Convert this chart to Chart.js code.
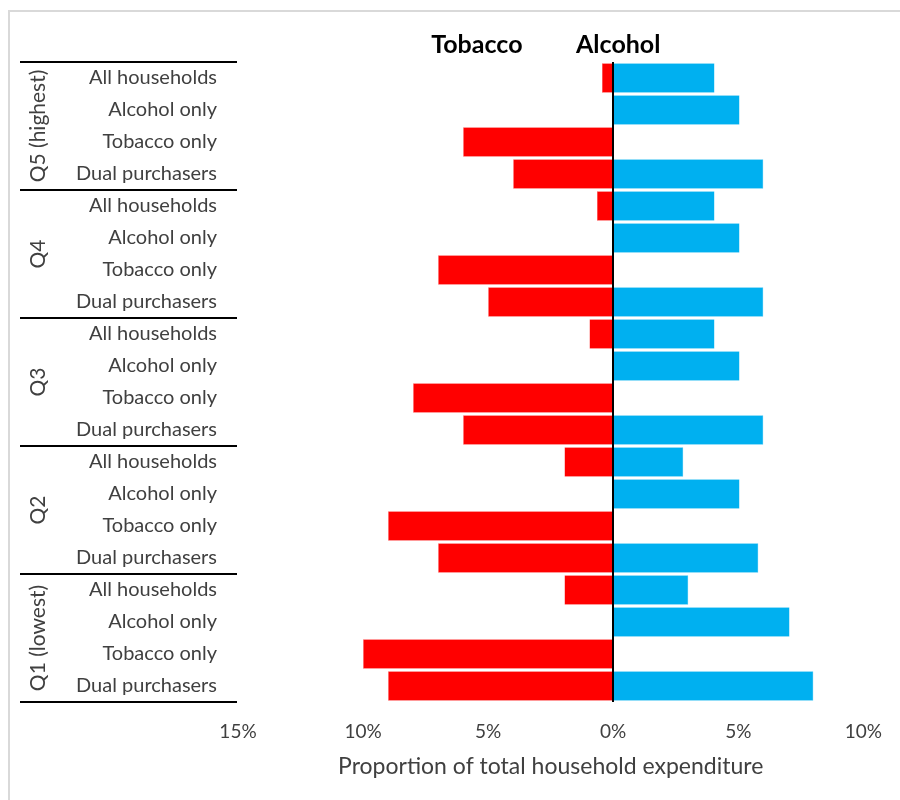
<!DOCTYPE html>
<html>
<head>
<meta charset="utf-8">
<script src="https://cdn.jsdelivr.net/npm/chart.js@4"></script>
<style>
	html, body { margin: 0; padding: 0; background: #fff; }
	#wrap { width: 900px; height: 800px; position: relative; }
</style>
</head>
<body>
<div id="wrap"><canvas id="chart"></canvas></div>
<script>
'use strict';

var groups = ['Q5 (highest)', 'Q4', 'Q3', 'Q2', 'Q1 (lowest)'];
var subgroups = ['All households', 'Alcohol only', 'Tobacco only', 'Dual purchasers'];
// % of total household expenditure, rows top to bottom
var tobacco = [0.45, 0, 6, 4, 0.65, 0, 7, 5, 0.95, 0, 8, 6, 1.95, 0, 9, 7, 1.95, 0, 10, 9];
var alcohol = [4.05, 5.05, 0, 6, 4.05, 5.05, 0, 6, 4.05, 5.05, 0, 6, 2.8, 5.05, 0, 5.8, 3, 7.05, 0, 8];
var xTicks = [-15, -10, -5, 0, 5, 10];

(function (window) {

	var labels = [];
	var tobaccoData = [];
	var alcoholData = [];
	for (var i = 0; i < tobacco.length; i++) {
		labels.push(subgroups[i % subgroups.length]);
		tobaccoData.push(tobacco[i] ? -tobacco[i] : null);
		alcoholData.push(alcohol[i] ? alcohol[i] : null);
	}

	var family = 'Lato, "Open Sans", sans-serif';
	Chart.defaults.font.family = family;
	Chart.defaults.font.size = 18;
	Chart.defaults.color = '#404040';

	var decor = {
		id: 'decor',
		beforeDraw: function (chart) {
			var ctx = chart.ctx;
			ctx.save();
			ctx.strokeStyle = '#d9d9d9';
			ctx.lineWidth = 2;
			ctx.beginPath();
			ctx.moveTo(9, 800);
			ctx.lineTo(9, 11);
			ctx.lineTo(900, 11);
			ctx.stroke();
			ctx.restore();
		},
		afterDatasetsDraw: function (chart) {
			var ctx = chart.ctx;
			var area = chart.chartArea;
			var x = chart.scales.x;
			var y = chart.scales.y;
			var n = subgroups.length;

			ctx.save();
			// zero line
			var x0 = Math.round(x.getPixelForValue(0));
			ctx.strokeStyle = '#000';
			ctx.lineWidth = 2;
			ctx.beginPath();
			ctx.moveTo(x0, area.top);
			ctx.lineTo(x0, area.bottom);
			ctx.stroke();

			// group separators and rotated group labels
			ctx.fillStyle = '#404040';
			ctx.font = '21px ' + family;
			for (var g = 0; g <= groups.length; g++) {
				var yy = Math.round(y.getPixelForValue(g * n - 0.5));
				ctx.beginPath();
				ctx.moveTo(20, yy);
				ctx.lineTo(237, yy);
				ctx.stroke();
				if (g < groups.length) {
					var mid = y.getPixelForValue(g * n + (n - 1) / 2);
					ctx.save();
					ctx.translate(38, mid);
					ctx.rotate(-Math.PI / 2);
					ctx.textAlign = 'center';
					ctx.textBaseline = 'middle';
					ctx.fillText(groups[g], 0, 0);
					ctx.restore();
				}
			}

			// series headings
			ctx.fillStyle = '#000';
			ctx.font = 'bold 25px ' + family;
			ctx.textAlign = 'center';
			ctx.textBaseline = 'middle';
			ctx.fillText('Tobacco', x.getPixelForValue(-5.45), 45);
			ctx.fillText('Alcohol', x.getPixelForValue(0.2), 45);
			ctx.restore();
		}
	};

	var config = {
		type: 'bar',
		data: {
			labels: labels,
			datasets: [
				{
					label: 'Tobacco',
					data: tobaccoData,
					backgroundColor: '#ff0000',
					borderColor: '#ff5050',
					borderWidth: 0.5,
					borderSkipped: false,
					barPercentage: 0.92,
					categoryPercentage: 1
				},
				{
					label: 'Alcohol',
					data: alcoholData,
					backgroundColor: '#00b0f0',
					borderColor: '#40c4f4',
					borderWidth: 0.5,
					borderSkipped: false,
					barPercentage: 0.92,
					categoryPercentage: 1
				}
			]
		},
		options: {
			indexAxis: 'y',
			responsive: true,
			maintainAspectRatio: false,
			animation: false,
			layout: {
				padding: { top: 62, right: 32, bottom: 18, left: 0 }
			},
			plugins: {
				legend: { display: false },
				tooltip: { enabled: false }
			},
			scales: {
				x: {
					stacked: true,
					min: -15,
					max: 10,
					afterBuildTicks: function (scale) {
						scale.ticks = xTicks.map(function (v) { return { value: v }; });
					},
					afterFit: function (scale) {
						scale.height = 80;
					},
					grid: { display: false, drawTicks: false },
					border: { display: false },
					ticks: {
						padding: 18,
						maxRotation: 0,
						font: { size: 19 },
						callback: function (value) {
							return Math.abs(value) + '%';
						}
					},
					title: {
						display: true,
						text: 'Proportion of total household expenditure',
						font: { size: 23 },
						padding: { top: 0, bottom: 2 }
					}
				},
				y: {
					stacked: true,
					afterFit: function (scale) {
						scale.width = 238;
					},
					grid: { display: false, drawTicks: false },
					border: { display: false },
					ticks: {
						padding: 21,
						autoSkip: false,
						font: { size: 20 }
					}
				}
			}
		},
		plugins: [decor]
	};

	var chart = new Chart(document.getElementById('chart'), config);
})(window);
</script>
</body>
</html>
